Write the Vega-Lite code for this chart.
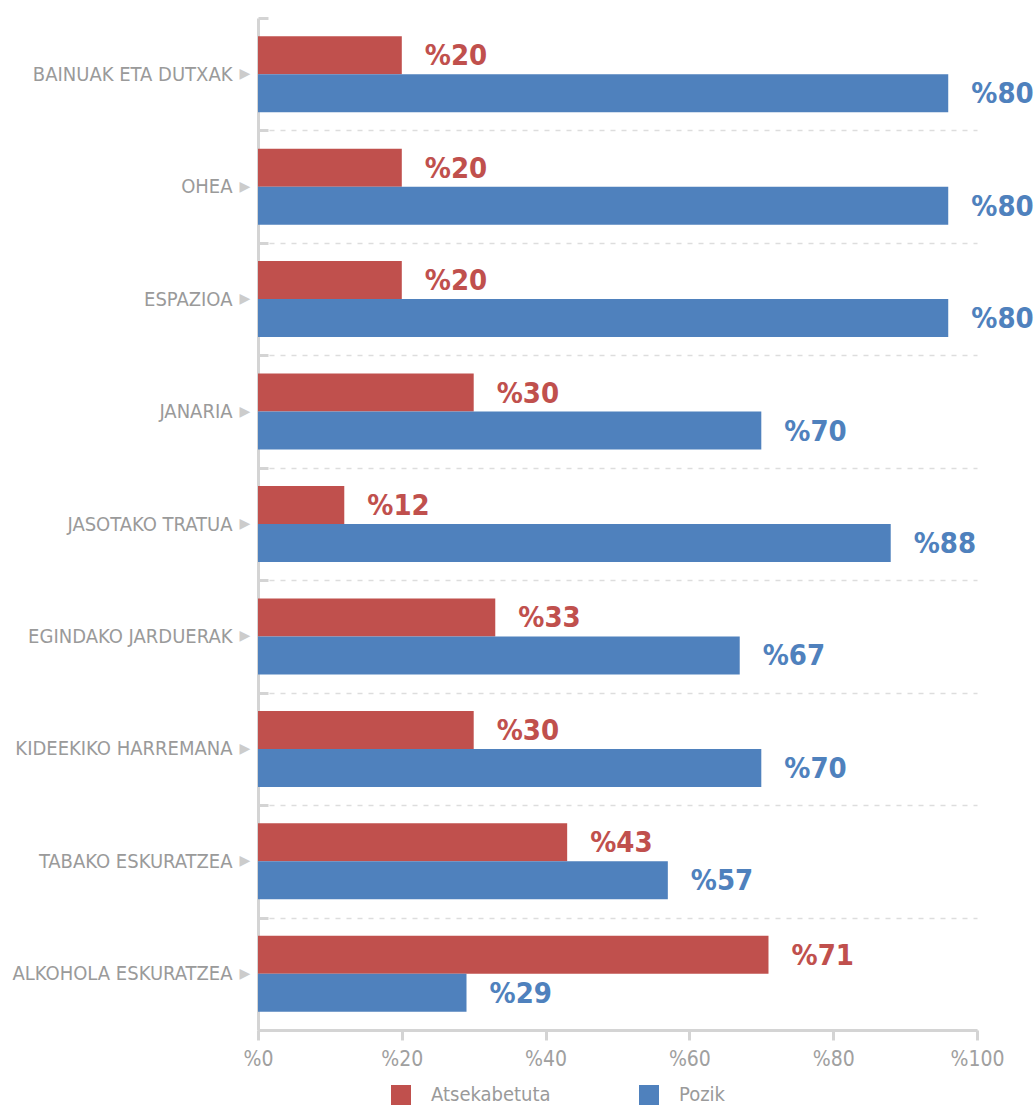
{
  "$schema": "https://vega.github.io/schema/vega-lite/v6.json",
  "width": 719,
  "height": 1012,
  "autosize": "none",
  "padding": {"left": 258, "top": 18, "right": 58, "bottom": 78},
  "background": "white",
  "data": {"values": [
    {"kategoria": "BAINUAK ETA DUTXAK", "taldea": "Atsekabetuta", "balioa": 20, "etiketa": "%20"},
    {"kategoria": "BAINUAK ETA DUTXAK", "taldea": "Pozik", "balioa": 96, "etiketa": "%80"},
    {"kategoria": "OHEA", "taldea": "Atsekabetuta", "balioa": 20, "etiketa": "%20"},
    {"kategoria": "OHEA", "taldea": "Pozik", "balioa": 96, "etiketa": "%80"},
    {"kategoria": "ESPAZIOA", "taldea": "Atsekabetuta", "balioa": 20, "etiketa": "%20"},
    {"kategoria": "ESPAZIOA", "taldea": "Pozik", "balioa": 96, "etiketa": "%80"},
    {"kategoria": "JANARIA", "taldea": "Atsekabetuta", "balioa": 30, "etiketa": "%30"},
    {"kategoria": "JANARIA", "taldea": "Pozik", "balioa": 70, "etiketa": "%70"},
    {"kategoria": "JASOTAKO TRATUA", "taldea": "Atsekabetuta", "balioa": 12, "etiketa": "%12"},
    {"kategoria": "JASOTAKO TRATUA", "taldea": "Pozik", "balioa": 88, "etiketa": "%88"},
    {"kategoria": "EGINDAKO JARDUERAK", "taldea": "Atsekabetuta", "balioa": 33, "etiketa": "%33"},
    {"kategoria": "EGINDAKO JARDUERAK", "taldea": "Pozik", "balioa": 67, "etiketa": "%67"},
    {"kategoria": "KIDEEKIKO HARREMANA", "taldea": "Atsekabetuta", "balioa": 30, "etiketa": "%30"},
    {"kategoria": "KIDEEKIKO HARREMANA", "taldea": "Pozik", "balioa": 70, "etiketa": "%70"},
    {"kategoria": "TABAKO ESKURATZEA", "taldea": "Atsekabetuta", "balioa": 43, "etiketa": "%43"},
    {"kategoria": "TABAKO ESKURATZEA", "taldea": "Pozik", "balioa": 57, "etiketa": "%57"},
    {"kategoria": "ALKOHOLA ESKURATZEA", "taldea": "Atsekabetuta", "balioa": 71, "etiketa": "%71"},
    {"kategoria": "ALKOHOLA ESKURATZEA", "taldea": "Pozik", "balioa": 29, "etiketa": "%29"}
  ]},
  "config": {
    "view": {"stroke": null},
    "font": "DejaVu Sans Condensed, Roboto"
  },
  "encoding": {
    "y": {
      "field": "kategoria", "type": "nominal", "sort": null, "title": null,
      "scale": {"paddingInner": 0, "paddingOuter": 0},
      "axis": {
        "tickBand": "extent",
        "domainColor": "#d4d4d4", "domainWidth": 3,
        "ticks": true, "tickColor": "#d4d4d4", "tickWidth": 3, "tickSize": -10,
        "grid": true, "gridColor": "#dddddd", "gridDash": [5, 6], "gridWidth": 1.5,
        "gridOpacity": {"condition": {"test": "datum.extra", "value": 0}, "value": 1},
        "labelFont": "DejaVu Sans Condensed, Roboto", "labelFontSize": 20, "labelColor": "#9a9a9a",
        "labelPadding": 36, "labelLimit": 300
      }
    }
  },
  "layer": [
    {
      "mark": {"type": "bar"},
      "encoding": {
        "x": {
          "field": "balioa", "type": "quantitative", "title": null,
          "scale": {"domain": [0, 100], "nice": false},
          "axis": {
            "values": [0, 20, 40, 60, 80, 100],
            "labelExpr": "'%' + datum.value",
            "domainColor": "#d4d4d4", "domainWidth": 3,
            "tickColor": "#d4d4d4", "tickWidth": 3, "tickSize": 10,
            "grid": false,
            "labelFont": "DejaVu Sans Condensed, Roboto", "labelFontSize": 21, "labelColor": "#a0a0a0",
            "labelPadding": 8, "labelFlush": false
          }
        },
        "yOffset": {"field": "taldea", "type": "nominal", "sort": ["Atsekabetuta", "Pozik"], "scale": {"paddingInner": 0, "paddingOuter": 0.48}},
        "color": {
          "field": "taldea", "type": "nominal", "title": null,
          "scale": {"domain": ["Atsekabetuta", "Pozik"], "range": ["#C0504D", "#4F81BD"]},
          "legend": {
            "orient": "none", "legendX": 133, "legendY": 1067, "direction": "horizontal",
            "symbolType": "square", "symbolSize": 400, "symbolStrokeWidth": 0,
            "labelFont": "DejaVu Sans Condensed, Roboto", "labelFontSize": 20, "labelColor": "#9a9a9a",
            "columnPadding": 88, "labelOffset": 20
          }
        }
      }
    },
    {
      "mark": {"type": "text", "align": "left", "baseline": "middle", "dx": 23, "dy": 1, "fontSize": 29, "fontWeight": "bold", "font": "DejaVu Sans Condensed, Roboto"},
      "encoding": {
        "x": {"field": "balioa", "type": "quantitative"},
        "yOffset": {"field": "taldea", "type": "nominal", "sort": ["Atsekabetuta", "Pozik"]},
        "text": {"field": "etiketa"},
        "color": {"field": "taldea", "type": "nominal", "legend": null}
      }
    },
    {
      "transform": [{"filter": "datum.taldea === 'Pozik'"}],
      "mark": {"type": "text", "align": "center", "baseline": "middle", "dx": -13, "fontSize": 14, "color": "#cccccc", "font": "DejaVu Sans"},
      "encoding": {
        "x": {"datum": 0, "type": "quantitative"},
        "text": {"value": "▶"}
      }
    }
  ]
}
